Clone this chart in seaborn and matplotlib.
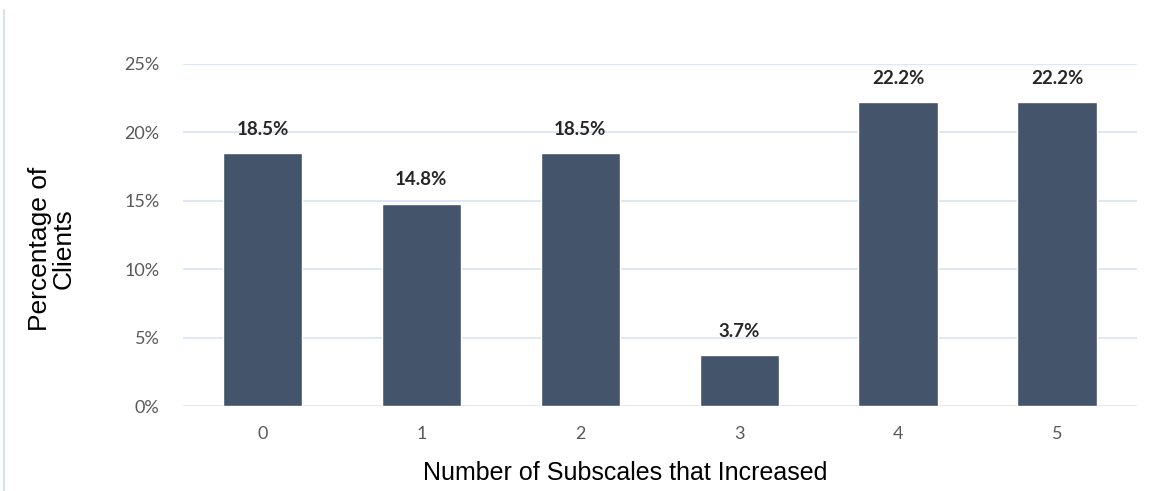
import matplotlib
matplotlib.use("Agg")
import matplotlib.pyplot as plt
import seaborn as sns
import pandas as pd
from matplotlib.lines import Line2D
from matplotlib.ticker import FuncFormatter

# values
subscales = ["0", "1", "2", "3", "4", "5"]
pct_clients = [18.5, 14.8, 18.5, 3.7, 22.2, 22.2]
y_ticks = [0, 5, 10, 15, 20, 25]

df = pd.DataFrame({"subscales": subscales, "pct": pct_clients})

sns.set_style("white")
plt.rcParams["font.family"] = ["Lato", "DejaVu Sans"]

fig = plt.figure(figsize=(11.61, 4.91), dpi=100)
ax = fig.add_axes([0.1576, 0.173, 0.8214, 0.6967])

sns.barplot(data=df, x="subscales", y="pct", color="#44546A", width=0.5,
            saturation=1, ax=ax)

ax.set_ylim(0, 25)
ax.set_xlim(-0.5, 5.5)
ax.set_yticks(y_ticks)
ax.yaxis.set_major_formatter(FuncFormatter(lambda v, p: f"{v:.0f}%"))
ax.grid(axis="y", color="#D9E1F2", linewidth=1.2)
ax.set_axisbelow(True)
for s in ax.spines.values():
    s.set_visible(False)
ax.tick_params(axis="both", length=0, labelsize=13, labelcolor="#595959")
ax.tick_params(axis="y", pad=17)
ax.tick_params(axis="x", pad=14)

for i, v in enumerate(pct_clients):
    ax.annotate(f"{v:.1f}%", (i, v), xytext=(0, 11), textcoords="offset points",
                ha="center", va="bottom", fontsize=13.5, fontweight="bold",
                color="#262626")

ax.set_xlabel("Number of Subscales that Increased", fontsize=18,
              family=["Liberation Sans", "DejaVu Sans"], color="#000000")
ax.xaxis.set_label_coords(0.464, -0.16)
ax.set_ylabel("Percentage of\nClients", fontsize=19,
              family=["Liberation Sans", "DejaVu Sans"], color="#000000",
              linespacing=0.95)
ax.yaxis.set_label_coords(-0.113, 0.46)

fig.add_artist(Line2D([0.0035, 0.0035], [0.0, 0.98], transform=fig.transFigure,
                      color="#D9E1F2", linewidth=1.5))

fig.savefig("out.png", dpi=100)
plt.close(fig)
